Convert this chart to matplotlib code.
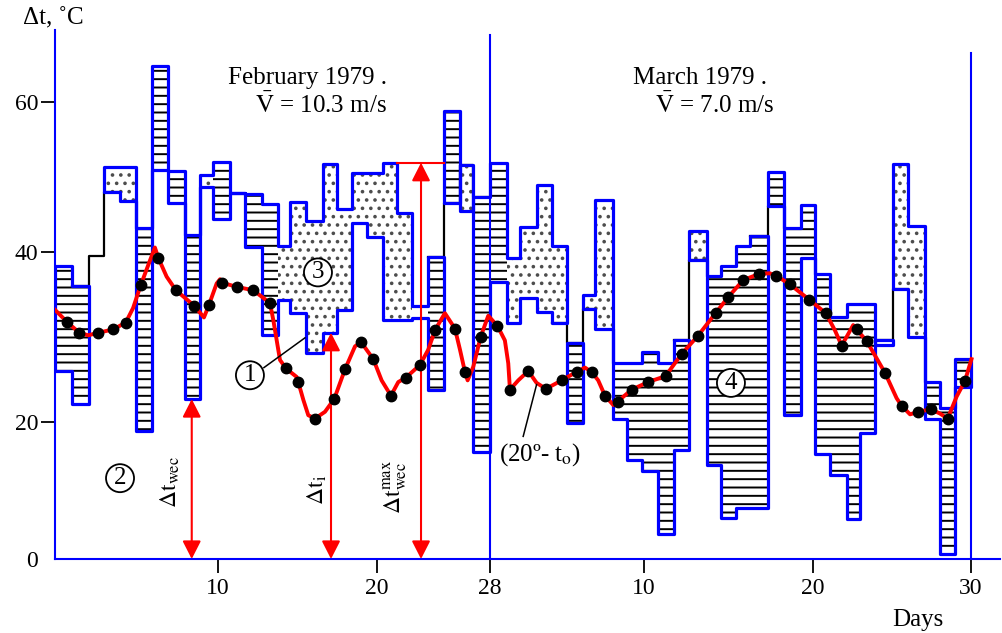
import numpy as np
import matplotlib
matplotlib.use('Agg')
import matplotlib.pyplot as plt

nan = np.nan

plt.rcParams['font.family'] = ['Liberation Serif', 'DejaVu Serif']
plt.rcParams['mathtext.fontset'] = 'stix'
plt.rcParams['hatch.linewidth'] = 1.4

# ---------------- data (days: Feb 1 = 0, Mar 1 = 28) ----------------
# column edges of the daily boxes
edges = [0, 1.04, 2.09, 3.01, 3.99, 4.97, 5.95, 6.93, 7.98, 8.90, 9.69, 10.75, 11.70,
         12.77, 13.77, 14.53, 15.53, 16.60, 17.48, 18.43, 19.37, 20.42, 21.42, 22.48,
         23.61, 24.74, 25.88, 26.80, 28.0,
         29.10, 29.95, 31.05, 32.03, 33.0, 34.04, 34.82, 35.99, 36.90, 37.87, 38.83,
         39.78, 40.66, 41.73, 42.56, 43.44, 44.27, 45.34, 46.28, 47.29, 48.13, 49.08,
         50.15, 50.97, 51.92, 53.06, 54.01, 55.09, 56.04, 56.99, 58.0]

# upper / lower value of each box
box_top = [38.35, 36.0, nan, 51.3, 51.3, 43.2, 64.8, 50.8, 42.3, 50.3,
           52.0, 47.9, 47.8, 46.4, 40.8, 46.7, 44.1, 51.7, 45.8, 50.5,
           50.5, 51.9, 45.2, 33.6, 39.4, 58.8, 51.6, 47.3,
           51.9, 39.3, 43.3, 48.9, 40.8, 29.3, 34.9, 46.9, 26.9, 26.9,
           28.2, 26.9, 29.6, 42.8, 37.2, 38.4, 40.8, 42.1, 50.7, 43.2,
           46.3, 37.4, 32.3, 33.9, 33.9, 29.6, 51.8, 43.5, 24.7, 21.7, 27.4]
box_bot = [26.0, 22.1, nan, 48.0, 46.8, 18.7, 50.9, 46.6, 22.7, 48.7,
           44.4, 47.9, 40.7, 30.2, 34.4, 32.8, 28.1, 30.5, 33.2, 43.9,
           42.0, 32.0, 32.0, 32.2, 23.8, 46.6, 45.5, 15.6,
           36.5, 31.7, 34.6, 33.0, 31.6, 19.9, 33.3, 31.0, 20.4, 14.5,
           12.8, 3.6, 15.9, 39.1, 13.7, 6.0, 7.4, 7.4, 46.1, 20.8,
           39.3, 15.3, 12.3, 5.9, 18.4, 29.1, 35.7, 30.0, 20.4, 0.8, 24.1]
# h = lined, d = dotted, w = empty box, - = no box ; capital letter starts a new outline
box_kind = "hh-ddhhhhdhwhhdddddddddwhHDHhddddHDdhhhhhDhhhhHhhhhhhWDdhhh"

# thin black step line
ref_line = [nan, 36.0, 39.5, 48.0, nan, nan, nan, nan, nan, nan,
            nan, nan, nan, nan, nan, nan, nan, nan, nan, nan,
            nan, nan, nan, nan, 39.4, 46.6, 51.6, 47.3,
            nan, nan, nan, nan, 31.6, 29.3, 33.3, nan, nan, nan,
            nan, nan, 29.6, 39.1, nan, nan, nan, 42.1, 46.1, nan,
            nan, nan, nan, nan, nan, 29.6, 35.7, nan, nan, nan, nan]

# (20 - t_o) daily points
dot_day = [0.72, 1.49, 2.66, 3.58, 4.34, 5.26, 6.34, 7.42, 8.53, 9.45,
           10.23, 11.18, 12.22, 13.27, 14.28, 15.05, 16.10, 17.31, 17.99, 19.0,
           19.77, 20.99, 22.03, 23.04, 24.11, 25.52, 26.23, 27.34,
           28.49, 29.30, 30.49, 31.64, 32.66, 33.63, 34.60, 35.47, 36.29, 37.20,
           38.25, 39.28, 40.23, 41.18, 42.24, 42.99, 43.88, 44.79, 45.84, 46.63,
           47.78, 48.82, 49.82, 50.77, 51.41, 52.56, 53.62, 54.67, 55.46, 56.53, 57.62]
dot_val = [31.8, 30.5, 30.5, 30.9, 31.7, 36.1, 39.3, 35.5, 33.7, 33.8,
           36.4, 35.9, 35.5, 34.0, 26.3, 24.7, 20.4, 22.7, 26.2, 29.4,
           27.4, 23.1, 25.2, 26.7, 30.8, 31.0, 25.9, 30.0,
           31.3, 23.8, 26.0, 23.9, 24.9, 25.9, 25.9, 23.1, 22.4, 23.8,
           24.7, 25.4, 28.0, 30.1, 32.8, 34.7, 36.7, 37.4, 37.2, 36.2,
           34.4, 32.8, 29.0, 30.9, 29.5, 25.8, 21.9, 21.2, 21.5, 20.4, 24.8]

# red curve
curve_day = [0.0, 0.72, 1.49, 2.04, 2.66, 3.58, 4.34, 4.79, 5.26, 5.71,
             6.13, 6.34, 6.85, 7.42, 8.53, 9.14, 9.45, 9.92, 10.13, 10.23,
             11.18, 12.22, 13.27, 13.48, 13.90, 14.28, 14.95, 15.05, 15.37, 15.68,
             16.10, 16.73, 17.31, 17.99, 18.62, 19.0, 19.77, 20.33, 20.99, 21.51,
             22.03, 23.04, 23.63, 24.11, 24.81, 25.52, 25.88, 26.23, 26.42, 26.82,
             27.34, 27.88, 28.49, 28.97, 29.19, 29.30, 29.84, 30.49, 31.03, 31.64,
             32.66, 33.63, 34.17, 34.60, 35.03, 35.47, 36.01, 36.29, 37.20, 38.25,
             39.28, 40.23, 41.18, 42.24, 42.99, 43.88, 44.79, 45.44, 45.84, 46.63,
             47.78, 48.82, 49.39, 49.82, 50.13, 50.55, 50.77, 51.41, 52.56, 53.30,
             53.62, 54.15, 54.67, 55.46, 56.04, 56.53, 57.10, 57.62, 58.04]
curve_val = [33.2, 31.8, 30.5, 30.2, 30.5, 30.9, 31.7, 33.4, 36.1, 38.4,
             40.6, 39.3, 37.1, 35.5, 33.7, 32.3, 33.8, 36.3, 36.8, 36.4,
             35.9, 35.5, 34.0, 32.0, 27.3, 26.3, 25.3, 24.7, 22.6, 20.8,
             20.4, 21.2, 22.7, 26.2, 28.9, 29.4, 27.4, 24.9, 23.1, 24.7,
             25.2, 26.7, 28.5, 30.8, 32.8, 31.0, 28.5, 25.9, 24.9, 26.5,
             30.0, 32.5, 31.3, 29.6, 26.9, 23.8, 24.9, 26.0, 24.6, 23.9,
             24.9, 25.9, 26.4, 25.9, 24.9, 23.1, 22.0, 22.4, 23.8, 24.7,
             25.4, 28.0, 30.1, 32.8, 34.7, 36.7, 37.4, 37.5, 37.2, 36.2,
             34.4, 32.8, 30.8, 29.0, 30.0, 31.4, 30.9, 29.5, 25.8, 22.8,
             21.9, 20.9, 21.2, 21.5, 21.0, 20.4, 23.0, 24.8, 27.4]

xticks = [10, 20, 28, 38, 48, 58]
xtick_labels = ['10', '20', '28', '10', '20', '30']
yticks = [0, 20, 40, 60]
month_end = [28, 58]
month_line_top = [68.9, 66.5]

# the original axes are not evenly spaced: knots taken from the tick positions
x_knots = [-10, 0, 10, 20, 28, 38, 48, 58, 70]
x_pix = [-108, 55, 218, 377, 490, 644, 813, 971, 1161]
y_knots = [-20, 0, 20, 40, 60, 90]
y_pix = [-137, 0, 137, 307, 457, 682]

BLUE = '#0000ff'

ex = np.array(edges, float)
top = np.array(box_top, float)
bot = np.array(box_bot, float)
ref = np.array(ref_line, float)


def split_runs(labels):
    out = []
    start = None
    for k in range(len(labels) + 1):
        lab = labels[k] if k < len(labels) else None
        if start is not None and (lab is None or lab != labels[start]):
            out.append((start, k - 1))
            start = None
        if start is None and lab is not None:
            start = k
    return out


def steps(i, j, vals):
    return ex[i:j + 2], np.append(vals[i:j + 1], vals[j])


gid = []
g = 0
for c in box_kind:
    if c == '-':
        gid.append(None)
        g += 1
    else:
        if c.isupper():
            g += 1
        gid.append(g)

outline_runs = split_runs(gid)
fill_runs = split_runs([None if c == '-' else (gid[k], c.lower()) for k, c in enumerate(box_kind)])
ref_runs = split_runs([None if np.isnan(v) else 0 for v in ref])

fig = plt.figure(figsize=(10.02, 6.33), dpi=100)
ax = fig.add_axes([55 / 1002, 74 / 633, 945 / 1002, 529 / 633])
ax.set_xscale('function', functions=(lambda d: np.interp(d, x_knots, x_pix),
                                     lambda p: np.interp(p, x_pix, x_knots)))
ax.set_yscale('function', functions=(lambda v: np.interp(v, y_knots, y_pix),
                                     lambda p: np.interp(p, y_pix, y_knots)))

hatches = {'h': '--', 'd': '..', 'w': None}
hatch_col = {'h': 'black', 'd': '0.3', 'w': 'black'}
for i, j in fill_runs:
    kd = box_kind[i].lower()
    x, y1 = steps(i, j, top)
    _, y2 = steps(i, j, bot)
    ax.fill_between(x, y2, y1, step='post', facecolor='white', edgecolor=hatch_col[kd],
                    hatch=hatches[kd], linewidth=0, zorder=2)

for i, j in ref_runs:
    x, y = steps(i, j, ref)
    ax.plot(x, y, drawstyle='steps-post', color='black', lw=1.6, zorder=3)

for i, j in outline_runs:
    x, y1 = steps(i, j, top)
    _, y2 = steps(i, j, bot)
    ax.fill_between(x, y2, y1, step='post', facecolor='none', edgecolor=BLUE,
                    linewidth=2.3, zorder=4)

for xm, yt in zip(month_end, month_line_top):
    ax.plot([xm, xm], [0, yt], color=BLUE, lw=1.5, zorder=4)

ax.plot(curve_day, curve_val, color='red', lw=2.8, zorder=5, solid_joinstyle='round')
ax.plot(dot_day, dot_val, 'o', color='black', ms=7.5, zorder=6)

# red arrows
arrow_style = dict(arrowstyle='<|-|>,head_length=0.55,head_width=0.28', color='red',
                   lw=1.5, shrinkA=0, shrinkB=0, mutation_scale=20)
for xa, ya in [(8.39, bot[8]), (17.11, bot[17]), (23.12, top[21])]:
    ax.annotate('', xy=(xa, ya), xytext=(xa, 0), arrowprops=arrow_style, zorder=5)
ax.plot([ex[22], ex[25]], [top[21], top[21]], color='red', lw=1.5, zorder=5)

# texts
ax.text(10.63, 63.2, 'February 1979 .', fontsize=18, ha='left', va='center')
ax.text(12.33, 59.6, r'$\bar{\mathrm{V}}$ = 10.3 m/s', fontsize=18, ha='left', va='center')
ax.text(37.29, 63.2, 'March 1979 .', fontsize=18, ha='left', va='center')
ax.text(38.65, 59.6, r'$\bar{\mathrm{V}}$ = 7.0 m/s', fontsize=18, ha='left', va='center')

ax.text(7.06, 11.2, r'$\Delta\mathrm{t}_{\mathrm{wec}}$', fontsize=17, rotation=90,
        ha='center', va='center')
ax.text(16.23, 10.1, r'$\Delta\mathrm{t}_{\mathrm{i}}$', fontsize=17, rotation=90,
        ha='center', va='center')
ax.text(21.27, 10.5, r'$\Delta\mathrm{t}_{\mathrm{wec}}^{\mathrm{max}}$', fontsize=17,
        rotation=90, ha='center', va='center')

ax.text(31.25, 15.3, r'(20º- t$_{\mathrm{o}}$)', fontsize=18, ha='center', va='center')
ax.plot([30.16, 31.03], [17.9, 24.4], color='black', lw=1.1, zorder=5)
ax.plot([12.89, 15.47], [26.4, 29.9], color='black', lw=1.1, zorder=5)

circ = dict(boxstyle='circle,pad=0.12', fc='white', ec='black', lw=1.3)
for xc, yc, lab in [(12.01, 25.5, '1'), (3.99, 11.8, '2'), (16.29, 37.6, '3'), (43.15, 24.6, '4')]:
    ax.text(xc, yc, lab, fontsize=18, ha='center', va='center', bbox=circ, zorder=7)

fig.text(53 / 1002, 1 - 18 / 633, 'Δt, ˚C', fontsize=18, ha='center', va='center')
fig.text(918 / 1002, 1 - 620 / 633, 'Days', fontsize=18, ha='center', va='center')

# axes styling
ax.set_xlim(0, 59.84)
ax.set_ylim(0, 69.6)
ax.set_xticks(xticks)
ax.set_xticklabels(xtick_labels)
ax.set_yticks(yticks)
for s in ['top', 'right']:
    ax.spines[s].set_visible(False)
for s in ['left', 'bottom']:
    ax.spines[s].set_color(BLUE)
    ax.spines[s].set_linewidth(1.5)
ax.tick_params(axis='both', direction='out', length=10, width=1.3, color='black',
               labelsize=17)
ax.tick_params(axis='y', pad=2)
ax.tick_params(axis='x', pad=4)
ax.yaxis.get_major_ticks()[0].tick1line.set_visible(False)
for k in [2, 5]:
    ax.xaxis.get_major_ticks()[k].tick1line.set_color(BLUE)

fig.savefig('out.png', dpi=100)
